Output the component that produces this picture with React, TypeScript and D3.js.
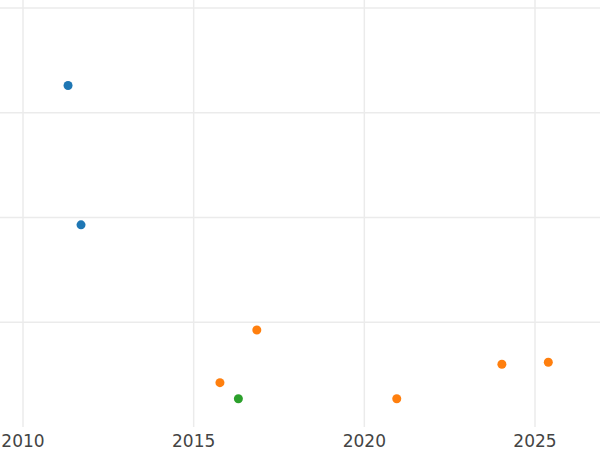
import React from "react";
import * as d3 from "d3";

const blueYears = [2011.32, 2011.7];
const blueValues = [3.26, 1.93];
const orangeYears = [2016.85, 2015.77, 2020.95, 2024.03, 2025.39];
const orangeValues = [0.926, 0.423, 0.27, 0.599, 0.618];
const greenYears = [2016.31];
const greenValues = [0.27];
const xTicks = [2010, 2015, 2020, 2025];
const yTicks = [1, 2, 3, 4];

const series = [
  { name: "A", color: "#1f77b4", xs: blueYears, ys: blueValues },
  { name: "B", color: "#ff7f0e", xs: orangeYears, ys: orangeValues },
  { name: "C", color: "#2ca02c", xs: greenYears, ys: greenValues },
];

export default function App() {
  const W = 600;
  const H = 450;
  const x = d3.scaleLinear().domain([2010, 2025]).range([23, 535]);
  const y = d3.scaleLinear().domain([0, 4]).range([427, 8]);
  const bottom = y(0);
  return (
    <svg
      width={W}
      height={H}
      style={{ position: "absolute", left: 0, top: 0, background: "#fff" }}
    >
      {yTicks.map((t) => (
        <line key={"h" + t} x1={0} x2={W} y1={y(t)} y2={y(t)} stroke="#ebebeb" strokeWidth={1.5} />
      ))}
      {xTicks.map((t) => (
        <line key={"v" + t} x1={x(t)} x2={x(t)} y1={0} y2={bottom} stroke="#ebebeb" strokeWidth={1.5} />
      ))}
      {series.map((s) =>
        s.xs.map((xv, i) => (
          <circle key={s.name + i} cx={x(xv)} cy={y(s.ys[i])} r={4.5} fill={s.color} />
        ))
      )}
      {xTicks.map((t) => (
        <text
          key={"l" + t}
          x={x(t)}
          y={447}
          textAnchor="middle"
          fontFamily="DejaVu Sans"
          fontSize={17}
          fill="#444"
        >
          {t}
        </text>
      ))}
    </svg>
  );
}
